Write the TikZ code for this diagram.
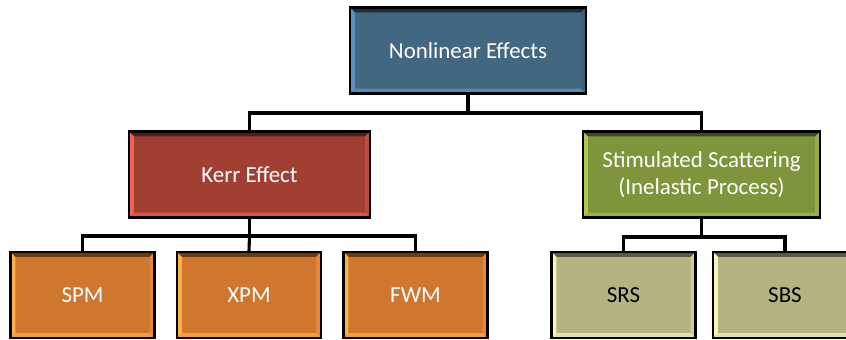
\documentclass[tikz,border=0pt]{standalone}
\usepackage{fontspec}
\setmainfont{Carlito}

% box colours: fill, top, left, bottom, right
\definecolor{nlFill}{HTML}{426780}
\definecolor{nlTop}{HTML}{1E2E38}
\definecolor{nlLeft}{HTML}{5E92BC}
\definecolor{nlBot}{HTML}{5A88A8}
\definecolor{nlRight}{HTML}{3E5E73}
\definecolor{kerrFill}{HTML}{A23F33}
\definecolor{kerrTop}{HTML}{4E1F1A}
\definecolor{kerrLeft}{HTML}{F26352}
\definecolor{kerrBot}{HTML}{DA5546}
\definecolor{kerrRight}{HTML}{C24B3E}
\definecolor{scatFill}{HTML}{7F953B}
\definecolor{scatTop}{HTML}{3E4A1B}
\definecolor{scatLeft}{HTML}{AFC652}
\definecolor{scatBot}{HTML}{9BB147}
\definecolor{scatRight}{HTML}{97AC44}
\definecolor{pmFill}{HTML}{CF762F}
\definecolor{pmTop}{HTML}{6A3A13}
\definecolor{pmLeft}{HTML}{FFB04A}
\definecolor{pmBot}{HTML}{FA9C3C}
\definecolor{pmRight}{HTML}{E3873A}
\definecolor{sFill}{HTML}{B4B482}
\definecolor{sTop}{HTML}{5B5B3E}
\definecolor{sLeft}{HTML}{F8F5B5}
\definecolor{sBot}{HTML}{E6E3A6}
\definecolor{sRight}{HTML}{CECB95}

\begin{document}
\begin{tikzpicture}[x=0.025cm, y=0.025cm,
  bevel/.style n args={5}{fill=#1, path picture={
    \fill[#2] (path picture bounding box.north west) -- (path picture bounding box.north east)
      -- ++(-5,-5) -- ([shift={(5,-5)}]path picture bounding box.north west) -- cycle;
    \fill[#3] (path picture bounding box.north west) -- (path picture bounding box.south west)
      -- ++(5,5) -- ([shift={(5,-5)}]path picture bounding box.north west) -- cycle;
    \fill[#4] (path picture bounding box.south west) -- (path picture bounding box.south east)
      -- ++(-5,5) -- ([shift={(5,5)}]path picture bounding box.south west) -- cycle;
    \fill[#5] (path picture bounding box.north east) -- (path picture bounding box.south east)
      -- ++(-5,5) -- ([shift={(-5,-5)}]path picture bounding box.north east) -- cycle;
  }},
  box/.style={draw=black, line width=1.6pt, minimum height=2.15cm, align=center,
    font=\fontsize{16.3}{19.5}\selectfont},
  leaf/.style={box, minimum width=3.6cm},
  conn/.style={line width=2.2pt, line join=miter}]

\clip (0,0) rectangle (846,340);

% top level
\node[box, minimum width=5.9cm, bevel={nlFill}{nlTop}{nlLeft}{nlBot}{nlRight}, text=white]
  (nonlin) at (468,289.5) {Nonlinear Effects};

% second level
\node[box, minimum width=6.025cm, bevel={kerrFill}{kerrTop}{kerrLeft}{kerrBot}{kerrRight}, text=white]
  (kerr) at (249.5,165.5) {Kerr Effect};
\node[box, minimum width=5.925cm, bevel={scatFill}{scatTop}{scatLeft}{scatBot}{scatRight}, text=white]
  (scat) at (701.5,165.5) {Stimulated Scattering\\(Inelastic Process)};

% leaves
\node[leaf, bevel={pmFill}{pmTop}{pmLeft}{pmBot}{pmRight}, text=white] (spm) at (82.5,45) {SPM};
\node[leaf, bevel={pmFill}{pmTop}{pmLeft}{pmBot}{pmRight}, text=white] (xpm) at (249,45) {XPM};
\node[leaf, bevel={pmFill}{pmTop}{pmLeft}{pmBot}{pmRight}, text=white] (fwm) at (415.5,45) {FWM};
\node[leaf, bevel={sFill}{sTop}{sLeft}{sBot}{sRight}] (srs) at (623.5,45) {SRS};
\node[leaf, bevel={sFill}{sTop}{sLeft}{sBot}{sRight}] (sbs) at (785,45) {SBS};

% connectors
\coordinate (splitA) at (468,227);
\coordinate (splitB) at (249.5,104);
\coordinate (splitC) at (701.5,103);

\draw[conn] (nonlin.south) -- (splitA);
\draw[conn] (kerr.north) |- (splitA) -| (scat.north);

\draw[conn] (kerr.south) -- (splitB);
\draw[conn] (spm.north) |- (splitB) -| (fwm.north);
\draw[conn] (splitB) -- (xpm.north);

\draw[conn] (scat.south) -- (splitC);
\draw[conn] (srs.north) |- (splitC) -| (sbs.north);

\end{tikzpicture}
\end{document}
